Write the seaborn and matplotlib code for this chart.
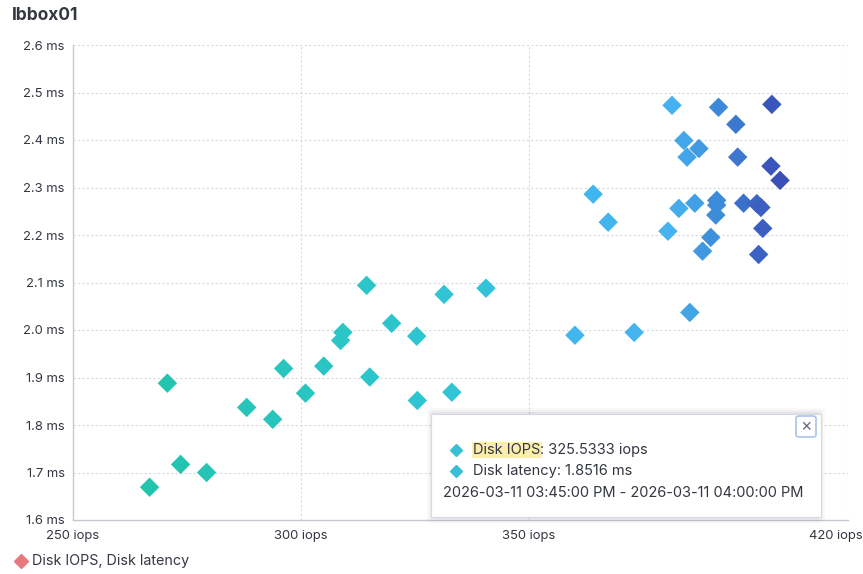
import matplotlib
matplotlib.use("Agg")
import matplotlib.pyplot as plt
import seaborn as sns
import pandas as pd
from matplotlib.colors import LinearSegmentedColormap
from matplotlib.patches import FancyBboxPatch, Rectangle
from matplotlib.lines import Line2D
from matplotlib.transforms import ScaledTranslation

# ---- data ----
disk_iops = [266.8, 270.7, 273.6, 279.3, 288.1, 293.8, 296.2, 301.0, 305.0, 309.2,
             308.7, 315.1, 314.4, 319.9, 325.4, 325.5333, 333.1, 331.4, 340.6, 360.1,
             364.1, 367.4, 373.1, 381.4, 380.5, 382.9, 384.0, 384.7, 386.4, 387.3,
             385.3, 388.1, 389.9, 391.6, 391.2, 391.2, 391.0, 395.4, 395.8, 397.1,
             400.0, 400.9, 401.3, 400.4, 403.3, 403.1, 405.1]
disk_latency = [1.669, 1.888, 1.717, 1.700, 1.837, 1.812, 1.919, 1.867, 1.924, 1.995,
                1.978, 1.901, 2.094, 2.014, 1.987, 1.8516, 1.869, 2.075, 2.088, 1.989,
                2.286, 2.227, 1.995, 2.473, 2.208, 2.256, 2.399, 2.364, 2.267, 2.382,
                2.037, 2.166, 2.195, 2.469, 2.273, 2.263, 2.242, 2.433, 2.364, 2.267,
                2.266, 2.258, 2.214, 2.159, 2.475, 2.345, 2.315]
y_ticks = [1.6, 1.7, 1.8, 1.9, 2.0, 2.1, 2.2, 2.3, 2.4, 2.5, 2.6]
y_tick_labels = [f"{v:.1f} ms" for v in y_ticks]
x_ticks = [250, 300, 350, 420]
x_tick_labels = ["250 iops", "300 iops", "350 iops", "420 iops"]
title = "lbbox01"
legend_label = "Disk IOPS, Disk latency"
tooltip_iops = "325.5333 iops"
tooltip_latency = "1.8516 ms"
tooltip_time = "2026-03-11 03:45:00 PM - 2026-03-11 04:00:00 PM"

df = pd.DataFrame({"iops": disk_iops, "latency": disk_latency})

sns.set_theme(style="white")
plt.rcParams["font.family"] = ["Inter", "DejaVu Sans"]

W, H = 863, 574
fig = plt.figure(figsize=(W / 100, H / 100), dpi=100)
def fx(x): return x / W
def fy(y): return 1 - y / H

ax = fig.add_axes([fx(73), fy(520), fx(848) - fx(73), fy(45) - fy(520)])

cmap = LinearSegmentedColormap.from_list("grad", [
    (0.00, "#22c4ad"),
    (0.35, "#2cc5c9"),
    (0.54, "#32c3da"),
    (0.68, "#40b6ec"),
    (0.83, "#46b2f0"),
    (0.90, "#3d8ddb"),
    (1.00, "#3a4fb8"),
])

sns.scatterplot(data=df, x="iops", y="latency", hue="iops", palette=cmap,
                hue_norm=(266, 405), marker="D", s=98, linewidth=0,
                legend=False, ax=ax, zorder=3)

ax.set_xlim(250, 420)
ax.set_ylim(1.6, 2.6)
ax.set_xticks(x_ticks)
ax.set_xticklabels(x_tick_labels)
ax.set_yticks(y_ticks)
ax.set_yticklabels(y_tick_labels)
ax.set_xlabel("")
ax.set_ylabel("")
ax.tick_params(axis="both", length=0, labelsize=9.4, labelcolor="#343741")
ax.tick_params(axis="x", pad=7)
ax.tick_params(axis="y", pad=6)

grid_kw = dict(color="#d6dae0", linestyle=(0, (2, 2)), linewidth=0.8, zorder=1)
for v in y_ticks[1:]:
    ax.axhline(v, **grid_kw)
for v in [300, 350, 420]:
    ax.axvline(v, **grid_kw)

for s in ["top", "right"]:
    ax.spines[s].set_visible(False)
ax.spines["left"].set_color("#c5cad2")
ax.spines["bottom"].set_color("#c5cad2")
ax.spines["left"].set_linewidth(1.0)
ax.spines["bottom"].set_linewidth(1.0)

# shift last x label left (fits in panel)
lbls = ax.get_xticklabels()
lbls[-1].set_transform(lbls[-1].get_transform() + ScaledTranslation(-0.12, 0, fig.dpi_scale_trans))

# title
fig.text(fx(12), fy(16), title, fontsize=12.5, fontweight="bold", color="#343741",
         ha="left", va="center")

# legend
fig.add_artist(Line2D([fx(21)], [fy(561)], marker="D", markersize=7.5, color="#e7787e",
                      linestyle="none", transform=fig.transFigure))
fig.text(fx(32), fy(561), legend_label, fontsize=10.3, color="#343741", ha="left", va="center")

# tooltip
x0, y0, x1, y1 = 431, 414, 821, 517
for i, a in enumerate([0.05, 0.035, 0.025]):
    d = 2 + i * 2
    fig.patches.append(FancyBboxPatch((fx(x0 - d + 2), fy(y1 + d)), fx(x1 - x0 + 2 * d - 4), (y1 - y0 + 2 * d) / H,
                                      boxstyle="round,pad=0,rounding_size=0.006",
                                      transform=fig.transFigure, facecolor="black",
                                      alpha=a, edgecolor="none", zorder=5))
fig.patches.append(Rectangle((fx(x0), fy(y1)), fx(x1 - x0), (y1 - y0) / H,
                             transform=fig.transFigure, facecolor="white",
                             edgecolor="#d3dae6", linewidth=0.8, zorder=6))
# close button
fig.patches.append(FancyBboxPatch((fx(796), fy(437)), fx(20), 21 / H,
                                  boxstyle="round,pad=0,rounding_size=0.004",
                                  transform=fig.transFigure, facecolor="white",
                                  edgecolor="#a9c5e6", linewidth=1.2, zorder=7))
fig.text(fx(806), fy(426.5), "\u00d7", fontsize=12.5, color="#69707d", ha="center", va="center",
         zorder=8)
for yy in [450, 471]:
    fig.add_artist(Line2D([fx(456)], [fy(yy)], marker="D", markersize=6.5, color="#3bbfd6",
                          linestyle="none", transform=fig.transFigure, zorder=8))
tfs = 10.5
t1 = fig.text(fx(473), fy(450), "Disk IOPS", fontsize=tfs, color="#343741", ha="left",
              va="center", zorder=8,
              bbox=dict(facecolor="#fbeeab", edgecolor="none", pad=0.8))
ann = fig.text(0, 0, ": " + tooltip_iops, fontsize=tfs, color="#343741", ha="left",
               va="center", zorder=8)
fig.text(fx(473), fy(471), "Disk latency: " + tooltip_latency, fontsize=tfs, color="#343741",
         ha="left", va="center", zorder=8)
fig.text(fx(443), fy(493), tooltip_time, fontsize=tfs, color="#343741", ha="left",
         va="center", zorder=8)

fig.canvas.draw()
r = fig.canvas.get_renderer()
bb = t1.get_window_extent(r)
ann.set_position((bb.x1 / fig.bbox.width, fy(450)))

fig.savefig("out.png", dpi=100)
